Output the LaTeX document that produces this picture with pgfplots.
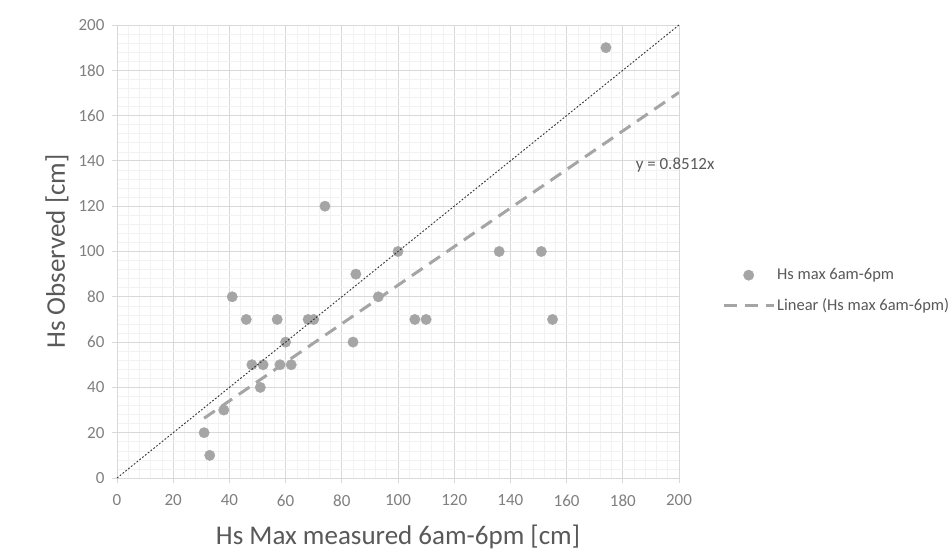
\documentclass[border=0pt]{standalone}
\usepackage{pgfplots}
\pgfplotsset{compat=1.18}
\usepackage{fontspec}
\setmainfont{Carlito}

\definecolor{markgray}{HTML}{A5A5A5}
\definecolor{textgray}{HTML}{595959}
\definecolor{tickgray}{HTML}{7F7F7F}
\definecolor{majgrid}{HTML}{D9D9D9}
\definecolor{mingrid}{HTML}{F2F2F2}

\pgfplotsset{
  wide mark legend/.style={legend image code/.code={%
    \draw[mark repeat=2,mark phase=2,##1] plot coordinates {(0pt,0pt)(25pt,0pt)(50pt,0pt)};}},
  wide line legend/.style={legend image code/.code={%
    \draw[##1] (0pt,0pt) -- (50pt,0pt);}},
}

\pgfplotstableread{
x   y
31  20
33  10
38  30
41  80
46  70
48  50
51  40
52  50
57  70
58  50
60  60
62  50
68  70
70  70
74  120
84  60
85  90
93  80
100 100
106 70
110 70
136 100
151 100
155 70
174 190
}\hsdata

\begin{document}
\begin{tikzpicture}
\path[use as bounding box] (-117pt,-73pt) rectangle (833pt,478pt);
\begin{axis}[
  at={(0pt,0pt)}, anchor=south west,
  scale only axis, width=562pt, height=453pt,
  xmin=0, xmax=200, ymin=0, ymax=200,
  xtick={0,20,...,200}, ytick={0,20,...,200},
  minor tick num=4,
  grid=both,
  major grid style={majgrid, line width=0.8pt},
  minor grid style={mingrid, line width=0.6pt},
  axis line style={majgrid, line width=0.8pt},
  tick align=outside,
  major tick length=5pt, minor tick length=0pt,
  tick style={majgrid, line width=0.8pt},
  xtick pos=bottom, ytick pos=left,
  /pgf/number format/assume math mode=true,
  ticklabel style={font=\fontsize{17}{20}\selectfont, text=tickgray},
  xticklabel style={yshift=-8pt},
  yticklabel style={xshift=-4pt},
  xlabel={Hs Max measured 6am-6pm [cm]},
  ylabel={Hs Observed [cm]},
  label style={font=\fontsize{27}{32}\selectfont, text=textgray},
  xlabel style={at={(axis description cs:0.5,0)}, anchor=center, yshift=-59pt},
  ylabel style={at={(axis description cs:0,0.5)}, anchor=center, yshift=60pt},
  clip mode=individual,
  legend style={
    at={(axis description cs:1.0765,0.414)}, anchor=west,
    draw=none, fill=none, inner sep=0pt,
    font=\fontsize{16.5}{19}\selectfont, text=textgray,
    row sep=13pt,
  },
  legend cell align=left,
]
% observations
\addplot[only marks, mark=*, mark size=5.2pt,
  mark options={draw=markgray, fill=markgray}, wide mark legend]
  table[x=x,y=y] {\hsdata};
\addlegendentry{Hs max 6am-6pm}
% linear fit through the origin, y = 0.8512x
\addplot[markgray, line width=3pt, dash pattern=on 13pt off 8pt, wide line legend]
  coordinates {(31,26.39) (200,170.24)};
\addlegendentry{Linear (Hs max 6am-6pm)}
% 1:1 reference line
\addplot[black!80, line width=0.9pt, dash pattern=on 1.8pt off 1.8pt, forget plot]
  coordinates {(0,0) (200,200)};
\node[font=\fontsize{17}{20}\selectfont, text=textgray] at (axis cs:198.6,138.2) {y = 0.8512x};
\end{axis}
\end{tikzpicture}
\end{document}
